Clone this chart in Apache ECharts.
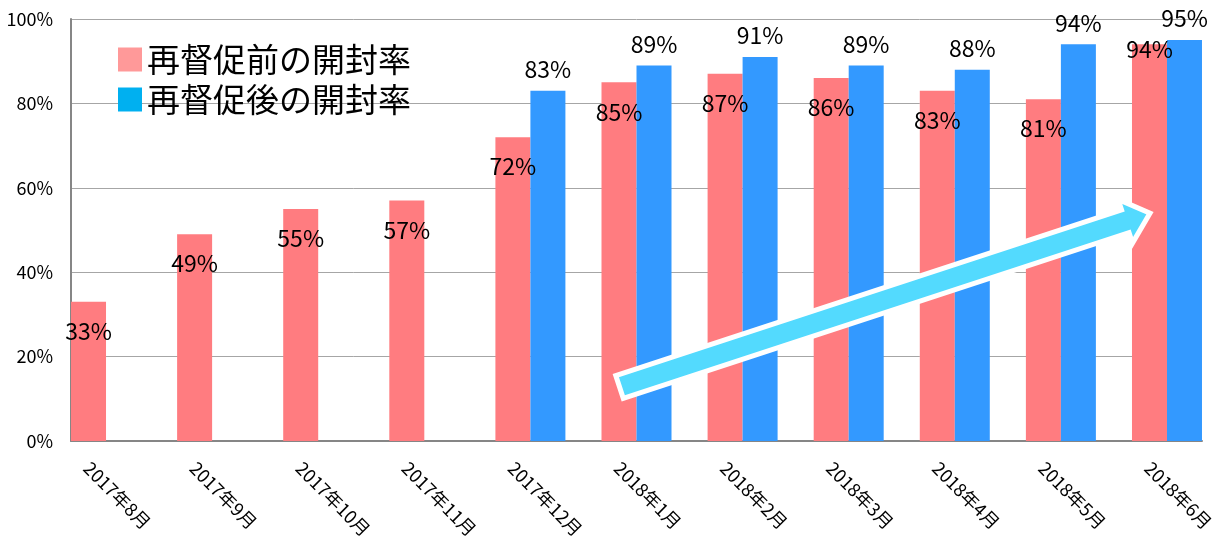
<!DOCTYPE html>
<html>
<head>
<meta charset="utf-8">
<script src="https://cdn.jsdelivr.net/npm/echarts@6/dist/echarts.min.js"></script>
<style>
html,body{margin:0;padding:0;background:#fff;}
#c{width:1224px;height:546px;}
</style>
</head>
<body>
<div id="c"></div>
<script>
const categories = ['2017年8月','2017年9月','2017年10月','2017年11月','2017年12月','2018年1月','2018年2月','2018年3月','2018年4月','2018年5月','2018年6月'];
const beforeName = '再督促前の開封率';
const afterName = '再督促後の開封率';
const beforeValues = [33, 49, 55, 57, 72, 85, 87, 86, 83, 81, 94];
const afterValues = [null, null, null, null, 83, 89, 91, 89, 88, 94, 95];
const yTicks = [0, 20, 40, 60, 80, 100];
// trend arrow annotation (category index, percent)
const arrowFrom = [4.84, 12.8];
const arrowTo = [9.84, 54.0];

const FONT = '"Noto Sans CJK JP", "Noto Sans", sans-serif';
const LABEL_SHIFT = 0.18;

const beforeData = beforeValues.map((v, i) => {
  const item = { value: [i, v] };
  if (i === beforeValues.length - 1) item.label = { distance: -7 };
  return item;
});
const afterData = afterValues
  .map((v, i) => (v == null ? null : { value: [i, v] }))
  .filter(d => d);

const chart = echarts.init(document.getElementById('c'), null, { renderer: 'canvas' });
chart.setOption({
  animation: false,
  backgroundColor: '#ffffff',
  textStyle: { fontFamily: FONT },
  grid: { left: 71, right: 22, top: 19, bottom: 105, containLabel: false, outerBoundsMode: 'none' },
  legend: {
    orient: 'vertical',
    left: 118,
    top: 43,
    padding: 0,
    itemWidth: 24,
    itemHeight: 24,
    itemGap: 7,
    icon: 'rect',
    textStyle: { fontSize: 33, color: '#000', fontFamily: FONT },
    data: [
      { name: beforeName, itemStyle: { color: '#FF9999' } },
      { name: afterName, itemStyle: { color: '#00B0F0' } }
    ]
  },
  xAxis: {
    type: 'value',
    min: -0.33,
    max: categories.length - 1 + 0.33,
    splitLine: { show: false },
    axisTick: { show: false },
    axisLine: { show: true, onZero: false, lineStyle: { color: '#868686', width: 2 } },
    axisLabel: {
      customValues: categories.map((_, i) => i - LABEL_SHIFT),
      formatter: v => categories[Math.round(v + LABEL_SHIFT)] || '',
      rotate: -45,
      margin: 24,
      fontSize: 18,
      color: '#000',
      fontFamily: FONT
    }
  },
  yAxis: {
    type: 'value',
    min: yTicks[0],
    max: yTicks[yTicks.length - 1],
    interval: yTicks[1] - yTicks[0],
    axisLine: { show: true, onZero: false, lineStyle: { color: '#868686', width: 2 } },
    axisTick: { show: false },
    splitLine: { show: true, lineStyle: { color: '#A6A6A6', width: 1 } },
    axisLabel: { formatter: '{value}%', margin: 18, fontSize: 18, color: '#000', fontFamily: FONT }
  },
  series: [
    {
      name: beforeName,
      type: 'bar',
      barWidth: 35,
      barGap: '0%',
      itemStyle: { color: '#FF7C80' },
      label: {
        show: true,
        position: 'insideTop',
        distance: 18,
        formatter: p => p.value[1] + '%',
        fontSize: 23,
        color: '#000',
        fontFamily: FONT
      },
      data: beforeData
    },
    {
      name: afterName,
      type: 'bar',
      barWidth: 35,
      barGap: '0%',
      itemStyle: { color: '#3399FF' },
      label: {
        show: true,
        position: 'top',
        distance: 10,
        formatter: p => p.value[1] + '%',
        fontSize: 23,
        color: '#000',
        fontFamily: FONT
      },
      data: afterData
    }
  ]
});

// trend arrow built from data-space end points
const p0 = chart.convertToPixel({ gridIndex: 0 }, arrowFrom);
const p1 = chart.convertToPixel({ gridIndex: 0 }, arrowTo);
const dx = p1[0] - p0[0], dy = p1[1] - p0[1];
const L = Math.sqrt(dx * dx + dy * dy);
const ux = dx / L, uy = dy / L;
const nx = -uy, ny = ux;
const w = 12, hw = 23, hl = 26;
const bx = p1[0] - ux * hl, by = p1[1] - uy * hl;
const pts = [
  [p0[0] + nx * w, p0[1] + ny * w],
  [bx + nx * w, by + ny * w],
  [bx + nx * hw, by + ny * hw],
  [p1[0], p1[1]],
  [bx - nx * hw, by - ny * hw],
  [bx - nx * w, by - ny * w],
  [p0[0] - nx * w, p0[1] - ny * w]
];
chart.setOption({
  graphic: [{
    type: 'polygon',
    z: 100,
    shape: { points: pts },
    style: { fill: '#53DAFE', stroke: '#ffffff', lineWidth: 5, lineJoin: 'miter' }
  }]
});
</script>
</body>
</html>
